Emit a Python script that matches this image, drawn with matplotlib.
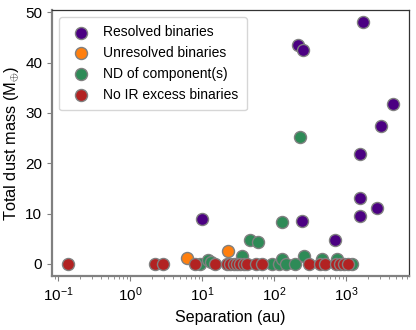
import numpy as np
import matplotlib
matplotlib.use("Agg")
import matplotlib.pyplot as plt

plt.rcParams["font.family"] = ["Liberation Sans", "DejaVu Sans"]
plt.rcParams["mathtext.fontset"] = "custom"
plt.rcParams["mathtext.rm"] = "Liberation Sans"
plt.rcParams["mathtext.it"] = "Liberation Sans:italic"
plt.rcParams["mathtext.bf"] = "Liberation Sans:bold"

# ─── datos ───────────────────────────────────────────────────
res_sep  = [10, 215, 250, 1700, 4440, 3090, 1545, 1545, 1545, 2720, 710, 242]
res_mass = [8.9, 43.5, 42.6, 48.1, 31.8, 27.5, 21.8, 13.0, 9.5, 11.1, 4.7, 8.5]

unres_sep  = [6.2, 22.7]
unres_mass = [1.1, 2.5]

nd_sep  = [232, 130, 46, 59, 36, 257, 9.3, 12.3, 13.5, 93, 116, 130, 145,
           198, 464, 750, 1220]
nd_mass = [25.2, 8.3, 4.7, 4.4, 1.5, 1.6, 0.0, 0.8, 0.3, 0.0, 0.0, 0.9, 0.0,
           0.0, 0.9, 0.9, 0.0]

noir_sep  = [0.139, 2.2, 2.84, 8.1, 15.3, 22.2, 24.8, 27.5, 30.6, 34.0, 37.9,
             42.1, 57, 69, 302, 440, 516, 733, 834, 947, 1076]
noir_mass = [0.0] * len(noir_sep)

SERIES = [
    ("Resolved binaries",     res_sep,   res_mass,   "#4b0082"),
    ("Unresolved binaries",   unres_sep, unres_mass, "#ff7f0e"),
    ("ND of component(s)",    nd_sep,    nd_mass,    "#2e8b57"),
    ("No IR excess binaries", noir_sep,  noir_mass,  "#b22222"),
]

fig = plt.figure(figsize=(4.16, 3.30), dpi=100)
ax = fig.add_axes([0.125, 0.164, 0.858, 0.806])

for label, xs, ys, col in SERIES:
    ax.scatter(xs, ys, s=75, color=col, edgecolor="gray", linewidth=1.0,
               label=label, zorder=3)

ax.set_xscale("log")
ax.set_yticks([0, 10, 20, 30, 40, 50])
ax.set_xlabel("Separation (au)", fontsize=11.5)
ax.set_ylabel(r"Total dust mass (M$_{\oplus}$)", fontsize=11.8, labelpad=3)
ax.tick_params(axis="both", labelsize=11, color="gray")
ax.tick_params(which="minor", color="gray")

for side in ["left", "bottom"]:
    ax.spines[side].set_color("gray")
    ax.spines[side].set_linewidth(1.6)
for side in ["top", "right"]:
    ax.spines[side].set_color("#333333")
    ax.spines[side].set_linewidth(0.9)

ax.legend(loc="upper left", fontsize=10, frameon=True, markerscale=1.0,
          handletextpad=0.6, borderpad=0.6, labelspacing=0.5)

fig.savefig("out.png", dpi=100)
